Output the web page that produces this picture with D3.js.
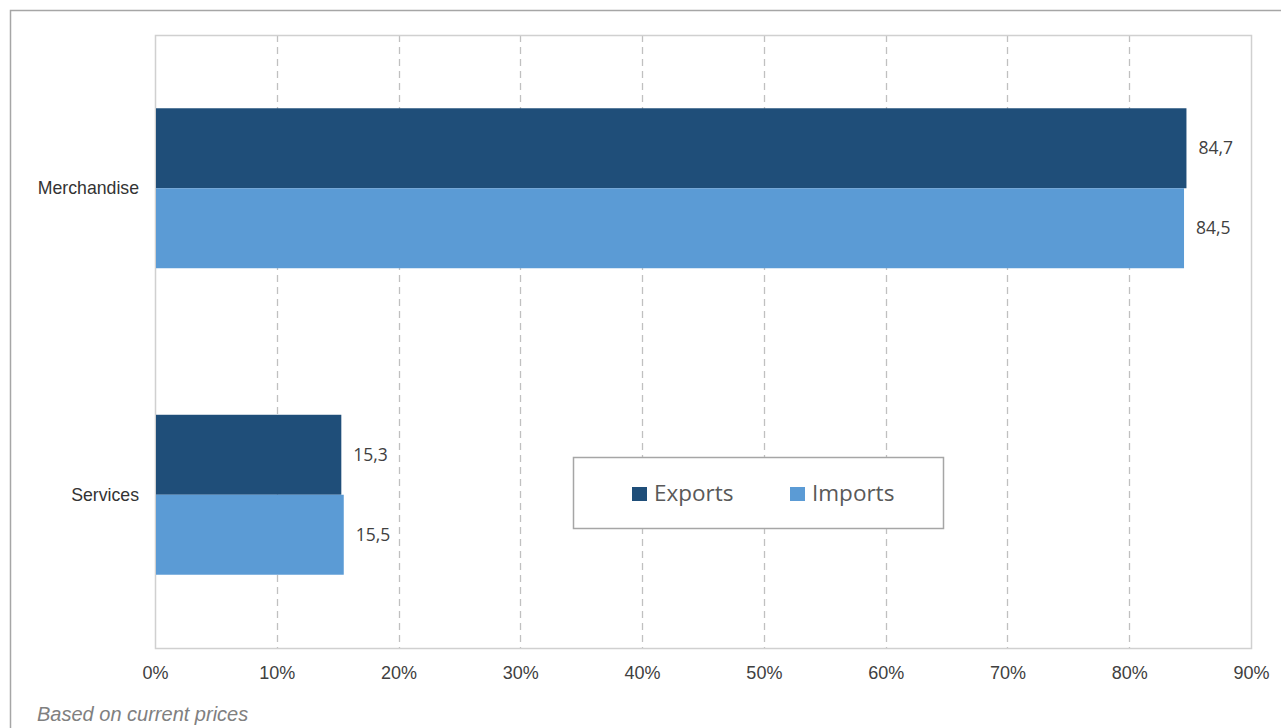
<!DOCTYPE html>
<html>
<head>
<meta charset="utf-8">
<script src="https://cdn.jsdelivr.net/npm/d3@7"></script>
<style>
  html, body { margin: 0; padding: 0; background: #fff; }
  svg { display: block; }
</style>
</head>
<body>
<svg id="chart" width="1281" height="728"></svg>
<script>
// Shares of trade by type (%)
const categories = ["Merchandise", "Services"];
const seriesNames = ["Exports", "Imports"];
const exportsValues = [84.7, 15.3];
const importsValues = [84.5, 15.5];
const xTicks = [0, 10, 20, 30, 40, 50, 60, 70, 80, 90];
const footnote = "Based on current prices";

const colors = { Exports: "#1f4e79", Imports: "#5b9bd5" };
const rows = categories.map((c, i) => ({
  category: c,
  values: [
    { series: "Exports", value: exportsValues[i] },
    { series: "Imports", value: importsValues[i] }
  ]
}));

const svg = d3.select("#chart");
const W = 1281, H = 728;
const plot = { left: 155, top: 35, right: 1251, bottom: 648 };

// outer frame
svg.append("rect")
  .attr("x", 10.5).attr("y", 10.5)
  .attr("width", W).attr("height", H)
  .attr("fill", "none").attr("stroke", "#a6a6a6").attr("stroke-width", 1.5);

const x = d3.scaleLinear().domain([0, 90]).range([plot.left, plot.right]);
const y0 = d3.scaleBand().domain(categories).range([plot.top, plot.bottom]).padding(0);
const y1 = d3.scaleBand().domain(seriesNames).range([0, y0.bandwidth()])
  .paddingInner(0).paddingOuter(0.916);

// vertical dashed gridlines
svg.append("g")
  .selectAll("line")
  .data(xTicks.filter(t => t > 0 && t < 90))
  .join("line")
  .attr("x1", d => Math.round(x(d)) + 0.5).attr("x2", d => Math.round(x(d)) + 0.5)
  .attr("y1", plot.top).attr("y2", plot.bottom)
  .attr("stroke", "#c0c0c0").attr("stroke-width", 1.3)
  .attr("stroke-dasharray", "7,5");

// plot area border
svg.append("rect")
  .attr("x", plot.left + 0.5).attr("y", plot.top + 0.5)
  .attr("width", plot.right - plot.left).attr("height", plot.bottom - plot.top)
  .attr("fill", "none").attr("stroke", "#d0d0d0").attr("stroke-width", 1.5);

// bars
const groups = svg.append("g").selectAll("g")
  .data(rows).join("g")
  .attr("transform", d => `translate(0,${y0(d.category)})`);

groups.selectAll("rect")
  .data(d => d.values).join("rect")
  .attr("x", x(0) + 1)
  .attr("y", d => y1(d.series))
  .attr("width", d => x(d.value) - x(0) - 1)
  .attr("height", y1.bandwidth())
  .attr("fill", d => colors[d.series]);

// value labels
groups.selectAll("text")
  .data(d => d.values).join("text")
  .attr("x", d => x(d.value) + 12)
  .attr("y", d => y1(d.series) + y1.bandwidth() / 2)
  .attr("dy", "0.35em")
  .attr("font-family", "Open Sans, Noto Sans, sans-serif")
  .attr("font-size", 17.5)
  .attr("fill", "#404040")
  .text(d => d.value.toFixed(1).replace(".", ","));

// category labels
svg.append("g").selectAll("text")
  .data(categories).join("text")
  .attr("x", 139)
  .attr("y", d => y0(d) + y0.bandwidth() / 2)
  .attr("dy", "0.35em")
  .attr("text-anchor", "end")
  .attr("font-family", "Liberation Sans, Arial, sans-serif")
  .attr("font-size", 17.7)
  .attr("fill", "#333333")
  .text(d => d);

// x axis
const xAxis = d3.axisBottom(x).tickValues(xTicks).tickSize(0).tickPadding(18)
  .tickFormat(d => d + "%");
const ax = svg.append("g").attr("transform", `translate(0,${plot.bottom})`).call(xAxis);
ax.select(".domain").remove();
ax.selectAll("text")
  .attr("font-family", "Liberation Sans, Arial, sans-serif")
  .attr("font-size", 18)
  .attr("fill", "#404040");

// legend
const lg = svg.append("g");
lg.append("rect")
  .attr("x", 573.5).attr("y", 457.5).attr("width", 370).attr("height", 71)
  .attr("fill", "#fff").attr("stroke", "#a6a6a6").attr("stroke-width", 1.5);
const legendX = { Exports: 632, Imports: 790 };
const items = lg.selectAll("g").data(seriesNames).join("g")
  .attr("transform", d => `translate(${legendX[d]},487)`);
items.append("rect").attr("width", 15).attr("height", 14)
  .attr("fill", d => colors[d]);
items.append("text")
  .attr("x", 22).attr("y", 6).attr("dy", "0.36em")
  .attr("font-family", "Open Sans, Noto Sans, sans-serif")
  .attr("font-size", 22.5)
  .attr("fill", "#595959")
  .text(d => d);

// footnote
svg.append("text")
  .attr("x", 37).attr("y", 721)
  .attr("font-family", "Liberation Sans, Arial, sans-serif")
  .attr("font-size", 20)
  .attr("font-style", "italic")
  .attr("fill", "#808080")
  .text(footnote);
</script>
</body>
</html>
